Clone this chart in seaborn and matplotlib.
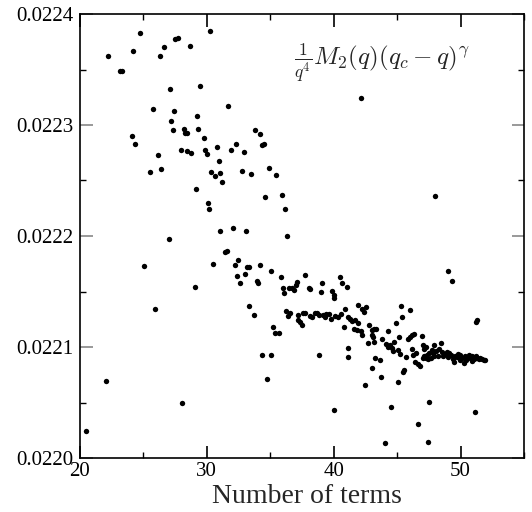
import numpy as np
import pandas as pd
import matplotlib
matplotlib.use("Agg")
import matplotlib.pyplot as plt
from matplotlib.ticker import MultipleLocator, FormatStrFormatter
import seaborn as sns

# ---- data ----
n_terms = [
    20.47, 22.02, 22.23, 23.15, 23.31, 24.12, 24.20, 24.33, 24.70, 25.06,
    25.54, 25.75, 25.93, 26.12, 26.28, 26.35, 26.61, 27.01, 27.11, 27.17,
    27.32, 27.38, 27.50, 27.69, 27.93, 28.01, 28.17, 28.27, 28.43, 28.45,
    28.64, 28.76, 29.06, 29.13, 29.21, 29.29, 29.45, 29.74, 29.87, 30.00,
    30.10, 30.16, 30.26, 30.34, 30.51, 30.63, 30.79, 30.92, 31.00, 31.05,
    31.16, 31.44, 31.57, 31.65, 31.87, 32.07, 32.20, 32.28, 32.39, 32.46,
    32.62, 32.76, 32.94, 32.99, 33.09, 33.19, 33.31, 33.33, 33.46, 33.70,
    33.80, 33.99, 34.06, 34.15, 34.20, 34.31, 34.33, 34.49, 34.57, 34.75,
    34.86, 35.04, 35.09, 35.22, 35.35, 35.43, 35.67, 35.83, 35.96, 36.01,
    36.12, 36.14, 36.22, 36.32, 36.40, 36.48, 36.59, 36.72, 36.89, 37.01,
    37.11, 37.17, 37.20, 37.36, 37.48, 37.60, 37.72, 38.15, 38.31, 38.50,
    38.66, 38.82, 39.16, 39.29, 39.41, 39.61, 39.76, 40.12, 40.37, 40.57,
    40.91, 40.79, 41.16, 41.31, 41.47, 41.65, 41.57, 41.81, 41.93, 41.94,
    37.76, 38.06, 38.11, 39.06, 39.00, 39.87, 40.00, 40.02, 40.47, 40.69,
    41.05, 38.82, 40.06, 41.10, 41.16, 42.13, 44.04, 46.67, 47.46, 47.50,
    48.01, 48.98, 49.35, 51.13, 51.18, 51.28, 44.49, 42.46, 43.73, 43.03,
    45.06, 45.46, 45.57, 42.20, 42.36, 42.56, 42.15, 42.20, 42.80, 42.99,
    43.20, 43.36, 43.03, 43.09, 42.68, 43.15, 43.25, 43.62, 43.82, 44.31,
    44.15, 44.31, 44.41, 44.57, 44.69, 44.78, 44.88, 45.09, 45.20, 45.16,
    45.31, 45.35, 45.67, 45.88, 46.04, 46.20, 46.35, 46.02, 46.14, 46.24,
    46.50, 46.40, 46.67, 46.77, 46.93, 47.03, 47.14, 47.24, 47.35, 47.50,
    47.66, 47.30, 47.40, 47.14, 47.03, 47.72, 47.82, 47.93, 47.87, 48.07,
    48.23, 48.31, 48.45, 48.50, 48.61, 48.76, 48.92, 48.98, 49.09, 49.24,
    49.37, 49.50, 49.57, 49.71, 49.76, 49.92, 49.98, 50.08, 50.24, 50.31,
    50.39, 50.51, 50.65, 50.76, 50.87, 50.94, 51.06, 51.18, 51.28, 51.42,
    51.55, 51.65, 51.81, 51.91,
]
estimate = [
    0.0220241, 0.0220692, 0.0223625, 0.0223490, 0.0223484, 0.0222898, 0.0223670, 0.0222831, 0.0223832, 0.0221729,
    0.0222576, 0.0223147, 0.0221338, 0.0222729, 0.0223625, 0.0222603, 0.0223703, 0.0221969, 0.0223327, 0.0223039,
    0.0222958, 0.0223126, 0.0223778, 0.0223782, 0.0222775, 0.0220493, 0.0222967, 0.0222931, 0.0222931, 0.0222766,
    0.0223712, 0.0222748, 0.0221544, 0.0222426, 0.0223078, 0.0222961, 0.0223352, 0.0222883, 0.0222772, 0.0222741,
    0.0222297, 0.0222243, 0.0223850, 0.0222579, 0.0221744, 0.0222543, 0.0222799, 0.0222678, 0.0222564, 0.0222044,
    0.0222489, 0.0221852, 0.0221864, 0.0223174, 0.0222775, 0.0222071, 0.0221738, 0.0222831, 0.0221638, 0.0221783,
    0.0221573, 0.0222582, 0.0222759, 0.0221656, 0.0222047, 0.0221720, 0.0221720, 0.0221365, 0.0222555, 0.0221284,
    0.0222958, 0.0221593, 0.0221580, 0.0222922, 0.0221740, 0.0220926, 0.0222817, 0.0222829, 0.0222353, 0.0220712,
    0.0222612, 0.0221686, 0.0220926, 0.0221181, 0.0221129, 0.0222546, 0.0221129, 0.0221632, 0.0222369, 0.0221530,
    0.0221488, 0.0222245, 0.0221323, 0.0222002, 0.0221278, 0.0221533, 0.0221307, 0.0221533, 0.0221512, 0.0221557,
    0.0221589, 0.0221287, 0.0221246, 0.0221224, 0.0221197, 0.0221305, 0.0221307, 0.0221278, 0.0221266, 0.0221302,
    0.0221305, 0.0221284, 0.0221284, 0.0221266, 0.0221296, 0.0221296, 0.0221248, 0.0221282, 0.0221266, 0.0221300,
    0.0221338, 0.0221183, 0.0221269, 0.0221248, 0.0221230, 0.0221242, 0.0221163, 0.0221156, 0.0221217, 0.0221377,
    0.0221652, 0.0221533, 0.0221521, 0.0221573, 0.0221494, 0.0221508, 0.0221467, 0.0221443, 0.0221629, 0.0221575,
    0.0221542, 0.0220926, 0.0220430, 0.0220989, 0.0220910, 0.0223241, 0.0220135, 0.0220310, 0.0220142, 0.0220502,
    0.0222357, 0.0221686, 0.0221593, 0.0220418, 0.0221228, 0.0221242, 0.0220460, 0.0220657, 0.0220729, 0.0220811,
    0.0220685, 0.0220777, 0.0220797, 0.0221338, 0.0221318, 0.0221362, 0.0221140, 0.0221106, 0.0221201, 0.0221156,
    0.0221158, 0.0221158, 0.0221111, 0.0221091, 0.0221037, 0.0221043, 0.0220899, 0.0220881, 0.0221073, 0.0221147,
    0.0221025, 0.0221003, 0.0221016, 0.0220994, 0.0220962, 0.0221043, 0.0221217, 0.0220976, 0.0220941, 0.0221091,
    0.0221368, 0.0221266, 0.0220914, 0.0221075, 0.0221086, 0.0221104, 0.0221115, 0.0221336, 0.0220980, 0.0220926,
    0.0220947, 0.0220869, 0.0220849, 0.0220827, 0.0221097, 0.0221019, 0.0220983, 0.0221003, 0.0220929, 0.0220947,
    0.0220899, 0.0220904, 0.0220890, 0.0220920, 0.0220899, 0.0220971, 0.0220944, 0.0220922, 0.0221019, 0.0220962,
    0.0220922, 0.0220985, 0.0221032, 0.0220953, 0.0220917, 0.0220940, 0.0220958, 0.0220908, 0.0220944, 0.0220926,
    0.0220890, 0.0220863, 0.0220917, 0.0220913, 0.0220940, 0.0220929, 0.0220881, 0.0220902, 0.0220858, 0.0220917,
    0.0220881, 0.0220908, 0.0220931, 0.0220902, 0.0220872, 0.0220917, 0.0220890, 0.0220922, 0.0220899, 0.0220890,
    0.0220902, 0.0220894, 0.0220887, 0.0220887,
]

x_ticks = [20, 30, 40, 50]
y_ticks = [0.0220, 0.0221, 0.0222, 0.0223, 0.0224]
x_label = "Number of terms"
annotation = r"$\frac{1}{q^4}M_2(q)(q_c-q)^\gamma$"

df = pd.DataFrame({"n": n_terms, "v": estimate})

sns.set_style("ticks")
plt.rcParams["font.family"] = ["Liberation Serif", "DejaVu Serif"]
plt.rcParams["mathtext.fontset"] = "cm"

fig = plt.figure(figsize=(5.32, 5.12), dpi=100)
ax = fig.add_axes([80/532, 1-458/512, 444/532, 444/512])

sns.scatterplot(data=df, x="n", y="v", ax=ax, color="black", s=15,
                linewidth=0, edgecolor=None, legend=False)

ax.set_xlim(20, 55)
ax.set_ylim(0.0220, 0.0224)
ax.set_xticks(x_ticks)
ax.set_yticks(y_ticks)
ax.yaxis.set_major_formatter(FormatStrFormatter("%.4f"))
ax.xaxis.set_minor_locator(MultipleLocator(5))
ax.yaxis.set_minor_locator(MultipleLocator(0.00005))

ax.tick_params(which="both", direction="in", top=True, right=True,
               labelsize=15, colors="black")
ax.tick_params(which="major", length=9, width=1.2)
ax.tick_params(which="minor", length=4.5, width=1.0)
ax.tick_params(axis="y", which="major", color="#888888")
ax.tick_params(axis="x", which="major", pad=3)
ax.tick_params(axis="y", which="major", pad=5)

for sp in ax.spines.values():
    sp.set_color("black")
    sp.set_linewidth(1.2)

ax.set_xlabel(x_label, fontsize=20, labelpad=0)
ax.xaxis.set_label_coords(0.512, -0.058, transform=ax.transAxes)
ax.xaxis.label.set_va("top")
ax.set_ylabel("")

ax.text(0.482, 0.89, annotation, transform=ax.transAxes,
        fontsize=18, ha="left", va="center")

fig.savefig("out.png", dpi=100)
